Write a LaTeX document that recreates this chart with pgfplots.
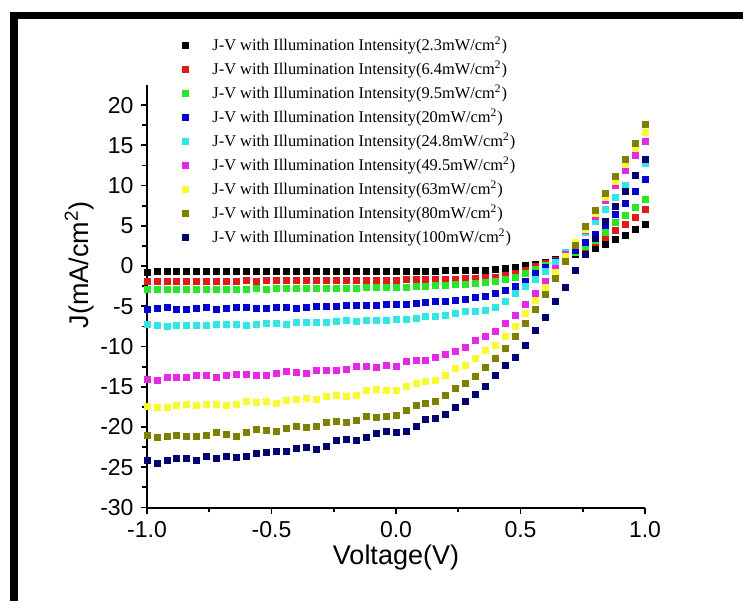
\documentclass[border=0pt]{standalone}
\usepackage{pgfplots}
\pgfplotsset{compat=1.18}
\usepackage{pgfplotstable}
\usepackage{fontspec}
\setmainfont{Liberation Sans}
\newfontfamily\seriffont{Liberation Serif}
\definecolor{cRed}{RGB}{225,25,25}
\definecolor{cGreen}{RGB}{40,230,40}
\definecolor{cBlue}{RGB}{0,0,210}
\definecolor{cCyan}{RGB}{50,230,230}
\definecolor{cMag}{RGB}{230,40,230}
\definecolor{cYel}{RGB}{250,250,50}
\definecolor{cOli}{RGB}{128,128,0}
\definecolor{cNavy}{RGB}{0,0,110}
\pgfplotstableread{
x b r g bl c m y o n
-1.00 -0.75 -1.90 -2.90 -5.38 -7.25 -14.04 -17.39 -20.99 -24.2
-0.96 -0.70 -1.88 -2.88 -5.26 -7.41 -14.16 -17.60 -21.33 -24.5
-0.92 -0.72 -1.90 -2.90 -5.18 -7.49 -13.79 -17.56 -21.20 -24.1
-0.88 -0.70 -1.88 -2.88 -5.34 -7.41 -13.87 -17.27 -20.99 -23.9
-0.84 -0.70 -1.88 -2.86 -5.34 -7.37 -13.87 -17.23 -21.12 -23.9
-0.80 -0.72 -1.86 -2.88 -5.26 -7.37 -13.62 -17.27 -21.12 -24.2
-0.76 -0.70 -1.88 -2.86 -5.13 -7.33 -13.62 -17.14 -20.99 -23.7
-0.72 -0.70 -1.86 -2.86 -5.34 -7.29 -13.87 -17.14 -20.66 -23.9
-0.68 -0.72 -1.86 -2.84 -5.26 -7.20 -13.62 -17.27 -20.91 -23.6
-0.64 -0.70 -1.86 -2.86 -5.13 -7.29 -13.46 -17.14 -21.12 -23.8
-0.60 -0.70 -1.84 -2.84 -5.18 -7.37 -13.46 -16.85 -20.66 -23.7
-0.56 -0.70 -1.86 -2.82 -5.26 -7.25 -13.54 -16.98 -20.25 -23.3
-0.52 -0.68 -1.84 -2.84 -5.20 -7.15 -13.54 -16.85 -20.37 -23.2
-0.48 -0.70 -1.82 -2.82 -5.13 -7.12 -13.33 -17.06 -20.58 -23.06
-0.44 -0.70 -1.82 -2.80 -5.13 -7.20 -13.13 -16.73 -20.17 -23.06
-0.40 -0.68 -1.82 -2.80 -5.26 -7.04 -13.21 -16.52 -19.96 -22.65
-0.36 -0.68 -1.80 -2.78 -5.13 -7.04 -13.33 -16.44 -20.08 -22.53
-0.32 -0.70 -1.80 -2.78 -5.05 -7.04 -13.00 -16.52 -19.96 -22.73
-0.28 -0.68 -1.80 -2.76 -4.97 -6.96 -12.92 -16.23 -19.46 -22.36
-0.24 -0.66 -1.78 -2.76 -5.05 -6.83 -13.00 -16.11 -19.33 -21.61
-0.20 -0.68 -1.78 -2.74 -4.93 -6.79 -12.84 -16.23 -19.46 -21.53
-0.16 -0.66 -1.76 -2.72 -4.84 -6.87 -12.50 -16.02 -19.13 -21.61
-0.12 -0.66 -1.76 -2.70 -4.93 -6.79 -12.50 -15.49 -18.63 -21.28
-0.08 -0.66 -1.76 -2.70 -4.84 -6.71 -12.59 -15.28 -18.80 -20.79
-0.04 -0.64 -1.74 -2.68 -4.76 -6.71 -12.38 -15.40 -18.72 -20.58
0.00 -0.64 -1.72 -2.64 -4.72 -6.68 -12.42 -15.40 -18.59 -20.70
0.04 -0.64 -1.70 -2.60 -4.72 -6.63 -11.89 -14.99 -17.97 -20.50
0.08 -0.62 -1.70 -2.55 -4.65 -6.50 -11.68 -14.58 -17.35 -19.90
0.12 -0.62 -1.68 -2.50 -4.55 -6.29 -11.68 -14.37 -17.06 -19.10
0.16 -0.62 -1.66 -2.44 -4.43 -6.29 -11.35 -14.16 -16.85 -18.90
0.20 -0.60 -1.64 -2.38 -4.40 -6.09 -10.93 -13.54 -16.11 -18.40
0.24 -0.60 -1.60 -2.30 -4.31 -5.88 -10.64 -12.71 -15.20 -17.50
0.28 -0.58 -1.56 -2.22 -4.14 -5.67 -10.14 -12.30 -14.58 -16.80
0.32 -0.56 -1.52 -2.12 -3.93 -5.59 -9.19 -11.47 -13.66 -16.00
0.36 -0.50 -1.45 -2.00 -3.73 -5.47 -8.78 -10.43 -12.59 -14.90
0.40 -0.45 -1.35 -1.85 -3.40 -5.13 -8.07 -9.81 -11.47 -13.60
0.44 -0.35 -1.20 -1.65 -3.06 -4.43 -7.12 -8.70 -10.23 -12.40
0.48 -0.20 -0.95 -1.35 -2.57 -3.40 -6.09 -7.45 -8.80 -11.30
0.52 0.05 -0.50 -0.85 -1.95 -2.50 -4.80 -5.90 -7.12 -9.80
0.56 0.25 -0.10 -0.40 -0.90 -1.60 -3.40 -4.30 -5.38 -8.00
0.60 0.50 0.30 0.05 -0.20 -0.70 -1.95 -2.65 -3.52 -6.35
0.64 0.80 0.75 0.60 0.60 0.50 -0.30 -0.83 -1.53 -4.45
0.68 1.15 1.20 1.10 1.30 1.70 1.40 1.16 0.54 -2.60
0.72 1.50 1.70 1.70 2.00 2.90 2.80 3.00 2.61 -0.55
0.76 1.85 2.30 2.40 2.90 4.20 4.40 4.60 4.89 1.40
0.80 2.20 2.90 3.20 3.90 5.60 6.20 6.50 6.96 3.50
0.84 2.70 3.60 4.20 5.10 7.10 8.20 8.50 9.03 5.60
0.88 3.30 4.45 5.40 6.40 8.50 10.06 10.50 11.10 7.40
0.92 3.85 5.20 6.30 7.80 10.00 11.90 12.60 13.20 9.30
0.96 4.50 6.10 7.25 9.30 11.30 13.80 14.60 15.30 11.30
1.00 5.20 7.00 8.30 10.80 12.70 15.50 16.60 17.60 13.30
}\jvdata
\begin{document}
\begin{tikzpicture}
\path[use as bounding box] (0,0) rectangle (371.5pt,300.5pt);
\fill[black] (5pt,0) rectangle (9pt,294.5pt);
\fill[black] (5pt,291pt) rectangle (371.5pt,294.5pt);
\begin{axis}[
  at={(73.5pt,46.75pt)}, anchor=south west,
  scale only axis, width=249pt, height=211.25pt,
  xmin=-1, xmax=1, ymin=-30, ymax=22.5,
  axis x line*=bottom, axis y line*=left,
  axis line style={line width=1pt, black},
  xtick={-1,-0.5,0,0.5,1},
  ytick={-30,-25,-20,-15,-10,-5,0,5,10,15,20},
  minor tick num=1,
  tick align=outside,
  major tick length=3.2pt, minor tick length=2.4pt,
  every tick/.style={black, line width=0.9pt},
  /pgf/number format/assume math mode=true,
  xticklabel style={/pgf/number format/.cd, fixed, fixed zerofill, precision=1},
  yticklabel style={/pgf/number format/.cd, fixed, precision=0},
  ticklabel style={font=\fontsize{11.5}{13}\selectfont},
  xlabel={Voltage(V)}, ylabel={J(mA/cm\textsuperscript{2})},
  label style={font=\fontsize{13.5}{15}\selectfont},
  xlabel style={at={(axis description cs:0.5,-0.118)}, anchor=center},
  ylabel style={at={(axis description cs:-0.136,0.574)}, anchor=center},
  clip=false,
  every axis plot/.append style={only marks, mark=square*, mark size=1.5pt},
  legend cell align=left,
  legend image code/.code={\draw[#1] plot coordinates {(0pt,0pt)}; \path[draw=none, fill=none] (-2pt,-1pt) rectangle (12.5pt,1pt);},
  legend style={at={(axis description cs:0.0683,1.1207)}, anchor=north west,
    draw=none, fill=none, inner sep=0pt, row sep=1pt,
    font=\seriffont\fontsize{8.2}{9}\selectfont,
    nodes={inner sep=1pt, text height=7pt, text depth=2pt}},
]
\addplot[black, mark options={draw=black, fill=black}] table[x=x,y=b] {\jvdata};
\addlegendentry{J-V with Illumination Intensity(2.3mW/cm\textsuperscript{2})}
\addplot[cRed, mark options={draw=cRed, fill=cRed}] table[x=x,y=r] {\jvdata};
\addlegendentry{J-V with Illumination Intensity(6.4mW/cm\textsuperscript{2})}
\addplot[cGreen, mark options={draw=cGreen, fill=cGreen}] table[x=x,y=g] {\jvdata};
\addlegendentry{J-V with Illumination Intensity(9.5mW/cm\textsuperscript{2})}
\addplot[cBlue, mark options={draw=cBlue, fill=cBlue}] table[x=x,y=bl] {\jvdata};
\addlegendentry{J-V with Illumination Intensity(20mW/cm\textsuperscript{2})}
\addplot[cCyan, mark options={draw=cCyan, fill=cCyan}] table[x=x,y=c] {\jvdata};
\addlegendentry{J-V with Illumination Intensity(24.8mW/cm\textsuperscript{2})}
\addplot[cMag, mark options={draw=cMag, fill=cMag}] table[x=x,y=m] {\jvdata};
\addlegendentry{J-V with Illumination Intensity(49.5mW/cm\textsuperscript{2})}
\addplot[cYel, mark options={draw=cYel, fill=cYel}] table[x=x,y=y] {\jvdata};
\addlegendentry{J-V with Illumination Intensity(63mW/cm\textsuperscript{2})}
\addplot[cOli, mark options={draw=cOli, fill=cOli}] table[x=x,y=o] {\jvdata};
\addlegendentry{J-V with Illumination Intensity(80mW/cm\textsuperscript{2})}
\addplot[cNavy, mark options={draw=cNavy, fill=cNavy}] table[x=x,y=n] {\jvdata};
\addlegendentry{J-V with Illumination Intensity(100mW/cm\textsuperscript{2})}
\end{axis}
\end{tikzpicture}
\end{document}
